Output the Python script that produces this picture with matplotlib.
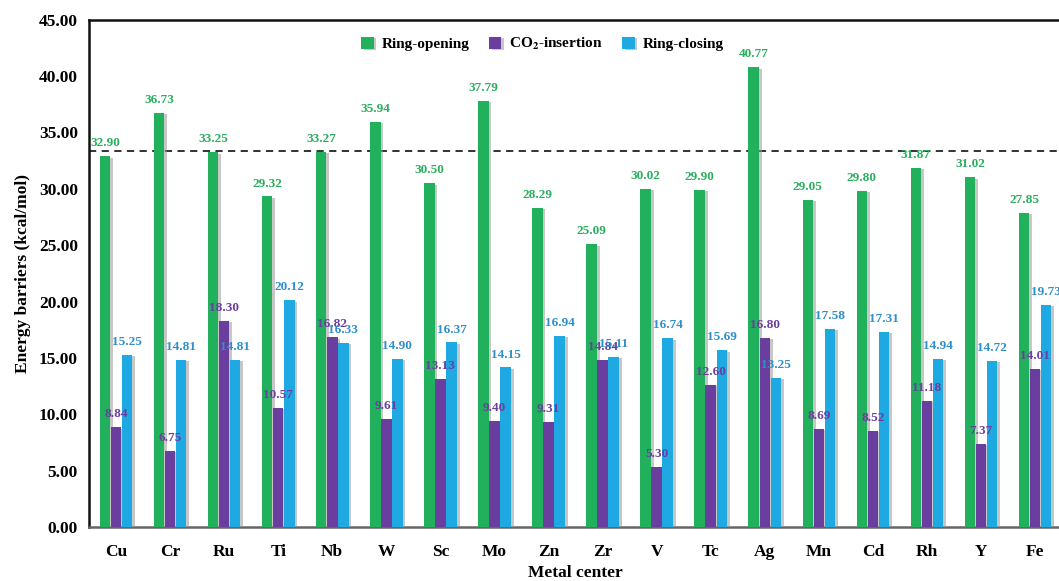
import matplotlib
matplotlib.use('Agg')
import matplotlib.pyplot as plt
import matplotlib.patheffects as pe
import numpy as np

plt.rcParams['font.family'] = ['Liberation Serif', 'DejaVu Serif']
plt.rcParams['font.weight'] = 'bold'
plt.rcParams['mathtext.fontset'] = 'stix'

metals = ['Cu', 'Cr', 'Ru', 'Ti', 'Nb', 'W', 'Sc', 'Mo', 'Zn', 'Zr',
          'V', 'Tc', 'Ag', 'Mn', 'Cd', 'Rh', 'Y', 'Fe']
ring_opening = [32.90, 36.73, 33.25, 29.32, 33.27, 35.94, 30.50, 37.79, 28.29,
                25.09, 30.02, 29.90, 40.77, 29.05, 29.80, 31.87, 31.02, 27.85]
co2_insertion = [8.84, 6.75, 18.30, 10.57, 16.82, 9.61, 13.13, 9.40, 9.31,
                 14.84, 5.30, 12.60, 16.80, 8.69, 8.52, 11.18, 7.37, 14.01]
ring_closing = [15.25, 14.81, 14.81, 20.12, 16.33, 14.90, 16.37, 14.15, 16.94,
                15.11, 16.74, 15.69, 13.25, 17.58, 17.31, 14.94, 14.72, 19.73]
reference_line = 33.4

green = '#21B15C'
purple = '#6A3E9E'
blue = '#1FA9E3'

fig = plt.figure(figsize=(10.59, 5.81), dpi=100)
# axes runs slightly past the right edge, like the cropped original
ax = fig.add_axes([0.084, 0.093, 0.919, 0.873])

x = np.arange(len(metals))
w = 0.205
shadow = [pe.SimplePatchShadow(offset=(2, -1), shadow_rgbFace='#999999', alpha=0.55), pe.Normal()]

series = [(ring_opening, green, '#2AAE5E', 'Ring-opening', -w),
          (co2_insertion, purple, '#6A3E9E', r'CO$_\mathbf{2}$-insertion', 0),
          (ring_closing, blue, '#2D8FCB', 'Ring-closing', w)]

for vals, col, tcol, lab, off in series:
    bars = ax.bar(x + off, vals, width=w * 0.95, color=col, label=lab, zorder=3)
    for b in bars:
        b.set_path_effects(shadow)
    for xi, v in zip(x + off, vals):
        ax.annotate('%.2f' % v, (xi, v), xytext=(0, 5), textcoords='offset points',
                    ha='center', va='bottom', color=tcol, fontsize=9.5,
                    fontweight='bold', zorder=4)

ax.axhline(reference_line, color='#222222', linestyle=(0, (4, 3)), linewidth=1.3, zorder=2)

ax.set_xlim(-0.5, len(metals) - 0.5)
ax.set_ylim(0, 45)
ax.set_yticks(np.arange(0, 46, 5))
ax.set_yticklabels(['%.2f' % t for t in np.arange(0, 46, 5)], fontsize=12.5, fontweight='bold')
ax.set_xticks(x)
ax.set_xticklabels(metals, fontsize=12.5, fontweight='bold')
ax.tick_params(axis='both', length=0)
ax.tick_params(axis='x', pad=12)
ax.tick_params(axis='y', pad=8)

for s in ['left', 'top', 'right']:
    ax.spines[s].set_color('#111111')
    ax.spines[s].set_linewidth(1.8)
ax.spines['bottom'].set_color('#666666')
ax.spines['bottom'].set_linewidth(1.8)

ax.set_ylabel('Energy barriers (kcal/mol)', fontsize=12.5, fontweight='bold', labelpad=6)
fig.text(0.543, 0.0, 'Metal center', ha='center', va='bottom', fontsize=12.5, fontweight='bold')

leg = ax.legend(loc='upper center', bbox_to_anchor=(0.466, 0.995), ncol=3, frameon=False,
                fontsize=11, handlelength=0.8, handleheight=0.8, columnspacing=1.3,
                handletextpad=0.5)
for h in leg.legend_handles:
    h.set_path_effects(shadow)

fig.savefig('out.png', dpi=100)
